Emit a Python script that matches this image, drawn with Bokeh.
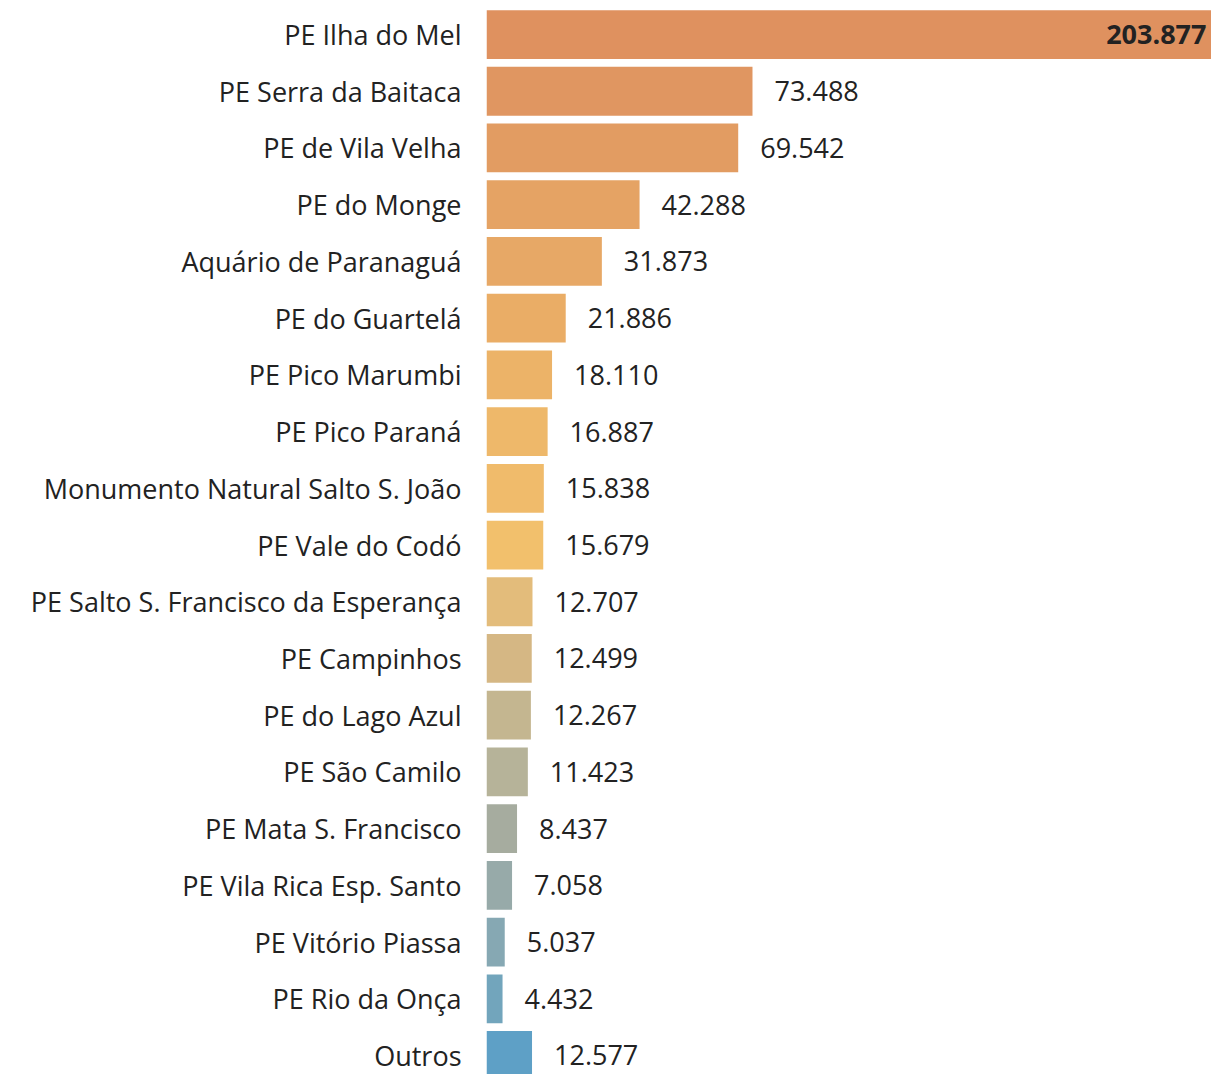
from bokeh.plotting import figure
from bokeh.models import Range1d, FixedTicker, ColumnDataSource
from bokeh.core.properties import value
from bokeh.embed import file_html
from bokeh.resources import INLINE

categories = [
    "PE Ilha do Mel", "PE Serra da Baitaca", "PE de Vila Velha", "PE do Monge",
    "Aquário de Paranaguá", "PE do Guartelá", "PE Pico Marumbi", "PE Pico Paraná",
    "Monumento Natural Salto S. João", "PE Vale do Codó",
    "PE Salto S. Francisco da Esperança", "PE Campinhos", "PE do Lago Azul",
    "PE São Camilo", "PE Mata S. Francisco", "PE Vila Rica Esp. Santo",
    "PE Vitório Piassa", "PE Rio da Onça", "Outros",
]
visitors = [203.877, 73.488, 69.542, 42.288, 31.873, 21.886, 18.110, 16.887,
            15.838, 15.679, 12.707, 12.499, 12.267, 11.423, 8.437, 7.058,
            5.037, 4.432, 12.577]
labels = ["203.877", "73.488", "69.542", "42.288", "31.873", "21.886", "18.110",
          "16.887", "15.838", "15.679", "12.707", "12.499", "12.267", "11.423",
          "8.437", "7.058", "5.037", "4.432", "12.577"]
colors = ["#DF915F", "#E09661", "#E29C62", "#E5A364", "#E7A866", "#EAAD66",
          "#ECB368", "#EEB86A", "#F0BB6B", "#F2C06C", "#E3BC7B", "#D5B784",
          "#C4B690", "#B6B399", "#A6AC9F", "#97AAA9", "#86A8B3", "#72A5BC",
          "#5EA0C6"]

n = len(categories)
ypos = list(range(n))
XMAX = 200.3

src = ColumnDataSource(dict(y=ypos, v=visitors, c=colors, lab=labels))
rest = ColumnDataSource(dict(y=ypos[1:], v=visitors[1:], lab=labels[1:]))
top = ColumnDataSource(dict(y=ypos[:1], v=[min(visitors[0], XMAX)], lab=labels[:1]))

p = figure(width=1211, height=1074, output_backend="svg", toolbar_location=None,
           x_range=Range1d(0, XMAX), y_range=Range1d(18.335, -0.6),
           x_axis_location=None, min_border_left=486, min_border_right=0,
           min_border_top=0, min_border_bottom=0)
p.outline_line_color = None
p.grid.visible = False
p.background_fill_color = "white"
p.border_fill_color = "white"

p.hbar(y="y", right="v", left=0, height=0.86, color="c", source=src, line_color=None)

p.text(x="v", y="y", text="lab", source=rest, x_offset=22,
       text_align="left", text_baseline="middle", text_font=value("Open Sans"),
       text_font_size="27px", text_color="#222222")
p.text(x="v", y="y", text="lab", source=top, x_offset=-5,
       text_align="right", text_baseline="middle", text_font=value("Open Sans"),
       text_font_size="27px", text_font_style="bold", text_color="#222222")

ax = p.yaxis[0]
ax.ticker = FixedTicker(ticks=ypos)
ax.major_label_overrides = {i: c for i, c in enumerate(categories)}
ax.axis_line_color = None
ax.major_tick_line_color = None
ax.minor_tick_line_color = None
ax.major_tick_out = 0
ax.major_label_standoff = 25
ax.major_label_text_font = "Open Sans"
ax.major_label_text_font_size = "27px"
ax.major_label_text_color = "#222222"

open("out.html", "w").write(file_html(p, INLINE))
